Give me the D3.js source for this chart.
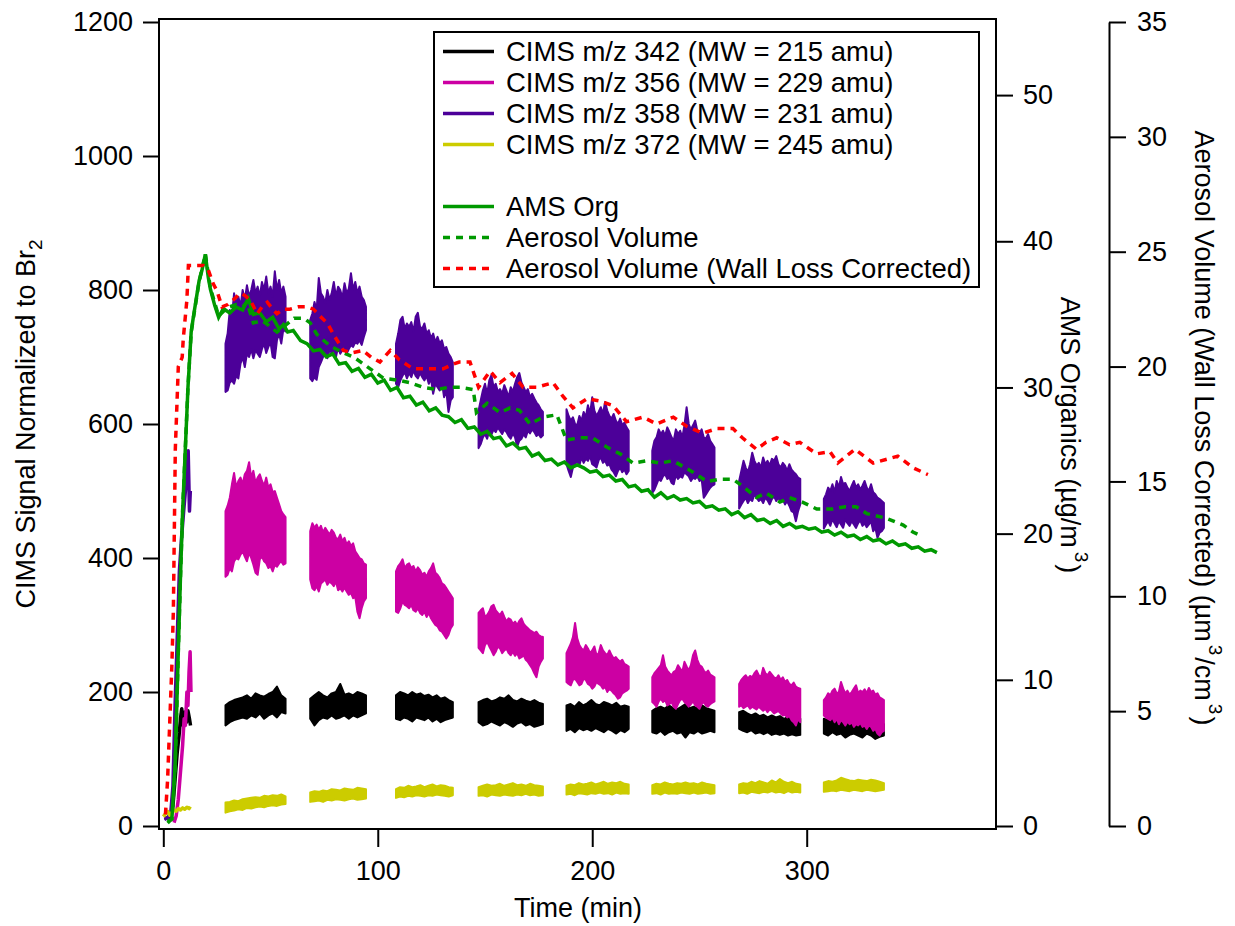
<!DOCTYPE html>
<html>
<head>
<meta charset="utf-8">
<script src="https://cdn.jsdelivr.net/npm/d3@7"></script>
<style>
	body { margin: 0; background: #fff; }
	svg text { font-family: "Liberation Sans", Arial, sans-serif; fill: #000; }
</style>
</head>
<body>
<svg id="chart" width="1235" height="926"></svg>
<script>

// time windows (min) when CIMS was sampling
const blockStart = [29, 68.5, 108.5, 147, 188, 228, 268.5, 308];
const blockEnd = [57, 94.5, 135, 177, 217, 257, 297, 336];

// CIMS signal band (upper / lower edge) per sampling window
const purpleHi = [
	[720, 735, 770, 760, 795, 780, 790, 775, 800, 785, 807, 790, 800, 815, 795, 805, 790, 812, 800, 820, 795, 805, 790, 828, 800, 815, 795, 805, 790],
	[755, 765, 782, 770, 818, 795, 790, 780, 800, 785, 795, 812, 790, 805, 800, 788, 810, 795, 802, 825, 800, 812, 795, 805, 790, 785, 775],
	[720, 735, 755, 760, 742, 750, 745, 752, 738, 760, 766, 745, 742, 750, 735, 740, 728, 735, 722, 730, 720, 725, 712, 715, 705, 700, 692],
	[620, 635, 650, 660, 645, 665, 673, 655, 660, 648, 652, 645, 658, 650, 640, 655, 648, 660, 670, 676, 662, 655, 648, 652, 640, 645, 638, 632, 628, 622, 618],
	[622, 612, 605, 610, 600, 598, 612, 605, 618, 610, 628, 615, 640, 620, 612, 618, 625, 615, 633, 620, 612, 608, 615, 605, 600, 608, 598, 602, 595, 590],
	[560, 575, 580, 592, 585, 590, 582, 595, 588, 580, 575, 592, 585, 590, 580, 598, 625, 600, 592, 598, 605, 590, 585, 592, 580, 578, 585, 575, 570, 565],
	[515, 530, 545, 535, 528, 540, 557, 545, 538, 542, 535, 550, 540, 545, 538, 548, 545, 552, 540, 535, 542, 538, 530, 540, 532, 528, 525, 520, 518],
	[488, 495, 505, 500, 510, 498, 515, 505, 521, 510, 512, 505, 500, 508, 515, 505, 510, 502, 508, 515, 505, 500, 510, 498, 495, 490, 488, 485, 482]
];
const purpleLo = [
	[648, 650, 662, 665, 660, 672, 668, 690, 700, 685, 705, 700, 712, 698, 710, 705, 700, 712, 720, 706, 715, 722, 700, 698, 725, 735, 720, 742, 738],
	[668, 664, 670, 666, 685, 692, 700, 705, 698, 710, 706, 712, 700, 715, 705, 710, 714, 705, 712, 718, 715, 722, 720, 725, 718, 730, 740],
	[660, 655, 665, 672, 678, 668, 676, 670, 680, 672, 668, 676, 670, 665, 672, 660, 668, 645, 660, 655, 650, 662, 640, 650, 618, 635, 640],
	[564, 570, 580, 585, 578, 590, 584, 592, 588, 595, 590, 585, 592, 588, 582, 578, 586, 580, 566, 575, 578, 585, 580, 590, 586, 592, 588, 582, 585, 580, 583],
	[540, 530, 521, 535, 540, 545, 538, 550, 542, 548, 545, 552, 540, 538, 535, 546, 550, 542, 545, 538, 540, 532, 528, 522, 530, 535, 528, 532, 525, 530],
	[497, 502, 510, 518, 515, 522, 525, 518, 520, 512, 510, 524, 518, 522, 520, 528, 525, 522, 515, 520, 518, 522, 515, 518, 490, 495, 500, 505, 508, 510],
	[474, 480, 485, 490, 482, 488, 485, 495, 490, 485, 488, 482, 490, 486, 480, 488, 492, 485, 490, 484, 488, 480, 485, 478, 470, 468, 455, 470, 480],
	[444, 450, 455, 448, 458, 452, 446, 455, 450, 445, 458, 452, 448, 455, 450, 445, 452, 456, 448, 452, 446, 450, 455, 440, 445, 430, 438, 440, 445]
];
const pinkHi = [
	[470, 478, 490, 510, 527, 505, 515, 520, 510, 525, 530, 543, 520, 530, 512, 520, 525, 515, 508, 520, 505, 510, 498, 500, 490, 480, 470, 465, 461],
	[440, 452, 445, 450, 442, 448, 438, 445, 440, 435, 442, 438, 430, 428, 435, 425, 430, 420, 425, 418, 422, 410, 405, 400, 398, 392, 390],
	[380, 388, 392, 398, 385, 390, 392, 385, 388, 380, 386, 382, 375, 378, 372, 380, 385, 392, 378, 375, 370, 362, 360, 355, 350, 345, 340],
	[318, 322, 325, 312, 315, 320, 328, 330, 322, 318, 315, 320, 312, 305, 310, 308, 302, 305, 300, 306, 310, 302, 298, 295, 292, 290, 288, 290, 285, 283, 282],
	[258, 265, 272, 282, 303, 280, 270, 265, 262, 270, 265, 258, 262, 268, 255, 258, 270, 262, 258, 255, 262, 255, 250, 252, 248, 245, 248, 242, 240, 238],
	[222, 228, 232, 236, 240, 255, 238, 232, 228, 225, 230, 232, 240, 235, 230, 245, 238, 232, 240, 255, 262, 248, 240, 238, 232, 228, 232, 226, 224, 222],
	[212, 218, 222, 225, 220, 224, 222, 228, 232, 225, 222, 236, 228, 225, 230, 226, 222, 220, 225, 218, 222, 215, 218, 212, 210, 214, 208, 206, 205],
	[188, 192, 198, 195, 202, 205, 198, 200, 215, 205, 198, 202, 196, 200, 205, 210, 198, 202, 200, 204, 198, 206, 200, 202, 196, 198, 192, 190, 188]
];
const pinkLo = [
	[372, 375, 385, 380, 395, 400, 398, 405, 410, 402, 395, 408, 400, 390, 378, 375, 398, 402, 395, 392, 385, 388, 380, 390, 387, 392, 395, 390, 392],
	[368, 355, 352, 358, 350, 362, 365, 368, 360, 365, 362, 358, 365, 352, 355, 350, 356, 350, 345, 348, 340, 342, 320, 310, 325, 335, 340],
	[320, 318, 325, 335, 330, 328, 325, 330, 322, 320, 325, 318, 315, 320, 312, 318, 310, 305, 300, 298, 292, 290, 285, 280, 285, 295, 300],
	[266, 262, 258, 270, 275, 268, 262, 255, 260, 268, 265, 258, 262, 265, 258, 255, 260, 254, 258, 250, 252, 255, 248, 245, 240, 235, 228, 222, 238, 245, 250],
	[215, 212, 210, 218, 220, 215, 210, 212, 220, 218, 212, 210, 205, 208, 215, 212, 210, 205, 208, 200, 205, 202, 198, 195, 190, 192, 198, 200, 202, 205],
	[185, 182, 178, 186, 190, 185, 188, 180, 182, 185, 178, 175, 182, 188, 190, 185, 182, 178, 182, 186, 180, 178, 175, 182, 185, 180, 178, 182, 184, 186],
	[178, 180, 176, 178, 180, 175, 178, 176, 174, 178, 175, 172, 175, 170, 174, 172, 168, 170, 172, 168, 165, 166, 162, 164, 158, 155, 150, 160, 155],
	[165, 162, 160, 158, 162, 155, 160, 152, 158, 155, 150, 156, 152, 155, 148, 152, 150, 154, 148, 150, 145, 150, 148, 142, 145, 138, 135, 140, 142]
];
const blackHi = [
	[180, 185, 188, 190, 192, 195, 190, 198, 195, 193, 197, 200, 208, 195, 190],
	[190, 195, 200, 195, 192, 198, 200, 212, 196, 198, 195, 200, 198, 195],
	[195, 200, 198, 195, 200, 196, 198, 194, 196, 192, 195, 190, 192, 188, 185],
	[185, 188, 190, 186, 188, 192, 190, 195, 188, 186, 190, 187, 185, 188, 184, 182],
	[180, 182, 178, 185, 180, 183, 188, 182, 180, 185, 183, 180, 184, 178, 180, 178],
	[172, 176, 178, 175, 180, 176, 174, 178, 182, 176, 178, 175, 180, 176, 174, 172],
	[170, 172, 168, 165, 168, 164, 166, 162, 165, 162, 164, 160, 163, 160, 162, 160],
	[160, 158, 162, 160, 155, 158, 162, 160, 158, 155, 160, 157, 158, 155, 152]
];
const blackLo = [
	[150, 155, 158, 160, 162, 160, 165, 162, 168, 160, 165, 168, 162, 170, 168],
	[160, 150, 158, 162, 160, 165, 160, 162, 165, 160, 165, 162, 165, 168],
	[160, 158, 162, 160, 156, 162, 160, 158, 162, 156, 160, 155, 158, 160, 162],
	[155, 150, 152, 156, 153, 150, 155, 152, 148, 153, 155, 150, 152, 148, 150, 152],
	[142, 145, 140, 146, 143, 145, 142, 146, 143, 140, 145, 142, 138, 143, 140, 145],
	[140, 138, 142, 136, 140, 142, 138, 140, 132, 140, 138, 142, 138, 140, 142, 140],
	[145, 142, 140, 143, 138, 140, 137, 140, 136, 138, 136, 138, 135, 137, 135, 136],
	[138, 135, 140, 136, 138, 132, 136, 138, 135, 132, 138, 135, 130, 133, 135]
];
const yellowHi = [
	[35, 36, 38, 37, 40, 41, 42, 43, 42, 45, 44, 46, 45, 47, 44],
	[50, 52, 51, 53, 52, 55, 54, 53, 56, 55, 54, 57, 56, 55],
	[55, 58, 57, 60, 58, 59, 61, 58, 60, 62, 59, 61, 60, 58, 57],
	[58, 60, 62, 60, 61, 63, 60, 62, 64, 61, 62, 60, 63, 61, 60, 59],
	[60, 62, 61, 64, 62, 63, 65, 62, 64, 66, 63, 65, 64, 66, 63, 62],
	[61, 63, 62, 65, 63, 62, 64, 63, 65, 63, 64, 62, 65, 63, 62, 61],
	[62, 64, 63, 66, 64, 67, 65, 63, 68, 65, 70, 66, 64, 66, 63, 62],
	[65, 67, 66, 68, 72, 70, 68, 67, 69, 68, 67, 69, 68, 66, 64]
];
const yellowLo = [
	[20, 22, 23, 25, 24, 27, 26, 28, 29, 28, 30, 31, 30, 32, 33],
	[36, 37, 38, 36, 39, 38, 40, 39, 38, 40, 41, 39, 40, 41],
	[42, 44, 43, 45, 44, 46, 45, 44, 46, 45, 47, 46, 45, 44, 46],
	[45, 46, 44, 47, 46, 45, 47, 46, 45, 47, 46, 48, 46, 47, 45, 46],
	[47, 48, 46, 49, 48, 47, 49, 48, 50, 48, 49, 47, 50, 48, 49, 48],
	[48, 49, 47, 50, 48, 49, 48, 50, 49, 48, 50, 48, 49, 50, 48, 49],
	[49, 50, 48, 51, 50, 49, 51, 50, 52, 50, 51, 49, 52, 50, 51, 50],
	[51, 52, 53, 52, 54, 53, 52, 54, 53, 52, 54, 53, 52, 53, 54]
];

// CIMS rise at the start of the experiment [time, signal]
const blackStart = [[0.5, 12], [2, 12], [3.5, 15], [4.5, 30], [5.5, 70], [6.5, 110], [7.5, 140], [8, 160], [8.6, 175], [9.3, 150], [10, 170], [10.8, 155], [11.5, 172], [12.2, 160], [12.7, 150]];
const pinkStart = [[5, 5], [6, 15], [7, 40], [8, 80], [9, 120], [9.7, 160], [10.3, 150], [11, 200], [11.5, 180], [12, 230], [12.5, 260], [12.9, 200]];
const purpleStart = [[0.5, 10], [2, 12], [3.5, 20], [4.5, 60], [5.5, 180], [6.5, 280], [7.5, 380], [8.5, 430], [9.5, 470], [10.3, 500], [11, 540], [11.6, 560], [12.2, 470], [12.6, 500]];
const yellowStart = [[0, 14], [1, 18], [2, 22], [3, 16], [4, 20], [5, 24], [6, 22], [7, 26], [8, 24], [9, 27], [10, 25], [11, 28], [12, 26], [12.6, 29]];

// AMS organics (ug/m3)
const amsTime = [2, 4, 5.5, 7, 8, 9, 10.3, 11.5, 13, 14, 16.7, 18, 19.6, 21, 22, 24, 25.8, 28, 31, 34, 37, 39.6, 42, 45, 48, 51, 54, 56, 58, 60.6, 64, 67, 70, 73, 76, 79, 82, 85, 88, 91, 94, 97, 100, 103, 106, 109, 112, 115, 118, 121, 124, 127, 130, 133, 136, 139, 142, 145, 148, 151, 154, 157, 160, 163, 166, 169, 172, 175, 178, 181, 184, 187, 190, 193, 196, 199, 202, 205, 208, 211, 214, 217, 220, 223, 226, 229, 232, 235, 238, 241, 244, 247, 250, 253, 256, 259, 262, 265, 268, 271, 274, 277, 280, 283, 286, 289, 292, 295, 298, 301, 304, 307, 310, 313, 316, 319, 322, 325, 328, 331, 334, 337, 340, 343, 346, 349, 352, 355, 358, 360.7];
const amsOrg = [0.2, 0.5, 4, 12, 17, 21.5, 25.9, 30, 33.8, 34.8, 37.3, 38, 39.1, 37.5, 36.7, 35.6, 34.8, 35.4, 35.1, 35.5, 35.3, 36.1, 35.0, 35.1, 34.5, 34.8, 34.0, 34.3, 33.8, 33.9, 33.2, 33.0, 32.5, 32.6, 32.1, 32.3, 31.6, 31.7, 31.1, 31.3, 30.7, 30.9, 30.3, 30.5, 29.8, 30.0, 29.3, 29.4, 28.8, 29.0, 28.4, 28.6, 28.1, 28.0, 27.6, 27.8, 27.2, 27.3, 26.8, 27.0, 26.5, 26.6, 26.0, 26.2, 25.8, 25.9, 25.3, 25.5, 25.0, 25.1, 24.7, 24.9, 24.5, 24.7, 24.5, 24.2, 24.3, 23.9, 24.0, 23.6, 23.7, 23.2, 23.3, 22.9, 23.0, 22.5, 22.8, 22.4, 22.6, 22.3, 22.4, 22.1, 22.2, 21.8, 21.9, 21.6, 21.7, 21.3, 21.5, 21.1, 21.3, 20.9, 21.0, 20.7, 20.9, 20.5, 20.7, 20.4, 20.5, 20.3, 20.4, 20.1, 20.2, 19.9, 20.1, 19.8, 19.9, 19.6, 19.8, 19.5, 19.6, 19.3, 19.5, 19.2, 19.3, 19.0, 19.1, 18.8, 18.9, 18.7];

// aerosol volume (um3/cm3)
const volTime = [2, 4, 5.5, 7, 8, 9, 10.3, 11.5, 13, 16.7, 19.6, 22, 25.8, 28, 31, 34, 37, 39, 42, 46, 49, 53, 57, 61, 65.5, 68.5, 71.6, 74, 77.8, 84, 89, 95, 102.6, 110, 115, 121, 127.6, 133, 138.4, 144.5, 146, 151, 157, 161.7, 166, 171, 177, 183.5, 188, 194, 200, 206.7, 213, 219, 225.5, 231.6, 237.7, 247, 253.5, 259.6, 265.6, 270, 276.6, 281, 287.5, 292, 298, 304.7, 312, 318, 323, 328, 337, 345, 349.5, 354];
const volume = [0.2, 0.3, 2.5, 7.6, 10.8, 13.7, 16.5, 19.1, 21.5, 23.7, 24.9, 23.4, 22.2, 22.4, 22.6, 22.7, 22.6, 22.8, 21.9, 22.0, 21.8, 21.5, 21.8, 22.1, 22.1, 21.9, 21.4, 21.2, 20.9, 20.6, 20.4, 20.0, 19.5, 19.4, 19.3, 19.1, 19.0, 19.1, 19.1, 19.0, 18.0, 18.4, 18.0, 18.2, 18.1, 17.5, 17.8, 17.9, 16.8, 16.9, 16.9, 16.5, 16.2, 15.8, 15.9, 15.8, 15.9, 15.4, 15.0, 15.1, 15.1, 14.8, 14.3, 14.5, 14.1, 14.3, 14.1, 13.8, 13.8, 13.9, 13.9, 13.6, 13.4, 13.1, 12.8, 12.6];
const volWlcTime = [1, 2, 3, 4, 4.7, 5.6, 7, 8.8, 9.3, 11, 11.7, 15, 18.6, 21, 23.3, 25, 27.4, 30, 32.6, 35.9, 38, 40.5, 43.8, 46, 48.5, 51, 53, 56, 59, 63, 67, 70, 73, 76.4, 80, 84, 88, 93, 97, 101, 105.8, 110, 116.5, 123, 130.5, 135, 138, 143, 147, 152.4, 157, 162.6, 167.8, 174, 181.7, 186.4, 191, 197.6, 203.6, 209.7, 216, 223.7, 230, 237.8, 244, 251.6, 258, 265.6, 270, 276.6, 281, 286, 292, 296.8, 304.6, 310.8, 314.5, 322.5, 331, 342.5, 349.5, 356.5];
const volumeWlc = [0.5, 2, 4.5, 7, 9.4, 16.4, 20, 20.4, 21.2, 22.9, 24.4, 24.4, 24.4, 24.2, 23.6, 23.3, 22.6, 22.7, 22.9, 23.2, 23.1, 22.9, 22.3, 22.6, 22.8, 22.5, 22.3, 22.5, 22.5, 22.6, 22.6, 22.5, 22.2, 21.9, 21.3, 20.7, 20.6, 20.7, 20.4, 20.2, 20.7, 20.3, 19.9, 19.9, 19.9, 20.1, 20.2, 20.2, 19.1, 19.8, 19.3, 19.7, 19.1, 19.1, 19.3, 18.7, 18.2, 18.6, 18.5, 18.3, 17.6, 17.8, 17.5, 17.8, 17.4, 17.1, 17.3, 17.3, 16.9, 16.4, 16.7, 16.9, 16.6, 16.7, 16.2, 16.3, 15.8, 16.4, 15.8, 16.1, 15.6, 15.3];

const legendLabels = [
	"CIMS m/z 342 (MW = 215 amu)",
	"CIMS m/z 356 (MW = 229 amu)",
	"CIMS m/z 358 (MW = 231 amu)",
	"CIMS m/z 372 (MW = 245 amu)",
	"",
	"AMS Org",
	"Aerosol Volume",
	"Aerosol Volume (Wall Loss Corrected)"
];

const timeTicks = [0, 100, 200, 300];
const cimsTicks = [0, 200, 400, 600, 800, 1000, 1200];
const amsTicks = [0, 10, 20, 30, 40, 50];
const volTicks = [0, 5, 10, 15, 20, 25, 30, 35];

const COLORS = {
	black: "#000000",
	pink: "#cc00a3",
	purple: "#4c0099",
	yellow: "#cccc00",
	green: "#009900",
	red: "#ff0000"
};

class ChamberPlot {

	constructor(svg_element_id) {
		this.svg = d3.select("#" + svg_element_id);

		this.x = d3.scaleLinear().domain([0, 300]).range([163.3, 806.7]);
		this.y_cims = d3.scaleLinear().domain([0, 1200]).range([826, 22]);
		this.y_ams = d3.scaleLinear().domain([0, 55]).range([826, 22]);
		this.y_vol = d3.scaleLinear().domain([0, 35]).range([826, 22]);

		this.drawData();
		this.drawFrame();
		this.drawAxes();
		this.drawLegend();
	}

	blockPoints(hi, lo, k) {
		const n = hi.length;
		const step = (blockEnd[k] - blockStart[k]) / (n - 1);
		return hi.map((h, j) => ({t: blockStart[k] + j * step, hi: h, lo: lo[j]}));
	}

	drawCims(g, hiList, loList, start, color) {
		const band = d3.area()
			.x(d => this.x(d.t))
			.y0(d => this.y_cims(d.lo))
			.y1(d => this.y_cims(d.hi));

		const line = d3.line()
			.x(d => this.x(d[0]))
			.y(d => this.y_cims(d[1]));

		g.append("path")
			.attr("d", line(start))
			.attr("fill", "none")
			.attr("stroke", color)
			.attr("stroke-width", 3.5)
			.attr("stroke-linejoin", "round");

		g.selectAll(null)
			.data(hiList.map((hi, k) => this.blockPoints(hi, loList[k], k)))
			.enter()
			.append("path")
			.attr("d", band)
			.attr("fill", color)
			.attr("stroke", color)
			.attr("stroke-width", 2)
			.attr("stroke-linejoin", "round");
	}

	drawData() {
		const g = this.svg.append("g");

		this.drawCims(g, blackHi, blackLo, blackStart, COLORS.black);
		this.drawCims(g, pinkHi, pinkLo, pinkStart, COLORS.pink);
		this.drawCims(g, purpleHi, purpleLo, purpleStart, COLORS.purple);
		this.drawCims(g, yellowHi, yellowLo, yellowStart, COLORS.yellow);

		const ams_line = d3.line()
			.x((d, i) => this.x(amsTime[i]))
			.y(d => this.y_ams(d));
		g.append("path")
			.attr("d", ams_line(amsOrg))
			.attr("fill", "none")
			.attr("stroke", COLORS.green)
			.attr("stroke-width", 3.5);

		const vol_line = d3.line()
			.x((d, i) => this.x(volTime[i]))
			.y(d => this.y_vol(d));
		g.append("path")
			.attr("d", vol_line(volume))
			.attr("fill", "none")
			.attr("stroke", COLORS.green)
			.attr("stroke-width", 3.5)
			.attr("stroke-dasharray", "7,6");

		const wlc_line = d3.line()
			.x((d, i) => this.x(volWlcTime[i]))
			.y(d => this.y_vol(d));
		g.append("path")
			.attr("d", wlc_line(volumeWlc))
			.attr("fill", "none")
			.attr("stroke", COLORS.red)
			.attr("stroke-width", 3.5)
			.attr("stroke-dasharray", "7,6");
	}

	drawFrame() {
		this.svg.append("rect")
			.attr("x", 159)
			.attr("y", 19)
			.attr("width", 837)
			.attr("height", 810)
			.attr("fill", "none")
			.attr("stroke", "#000")
			.attr("stroke-width", 2);
	}

	styleAxis(g) {
		g.selectAll(".tick line").attr("stroke", "#000").attr("stroke-width", 2);
		g.selectAll(".tick text").style("font-size", "27px").attr("fill", "#000");
		g.selectAll(".domain").attr("stroke", "#000").attr("stroke-width", 2);
	}

	drawAxes() {
		const fmt = d3.format("d");

		const left = this.svg.append("g")
			.attr("transform", "translate(159,0)")
			.call(d3.axisLeft(this.y_cims).tickValues(cimsTicks).tickFormat(fmt).tickSize(16).tickSizeOuter(0).tickPadding(10));
		left.select(".domain").remove();
		this.styleAxis(left);

		const bottom = this.svg.append("g")
			.attr("transform", "translate(0,829)")
			.call(d3.axisBottom(this.x).tickValues(timeTicks).tickFormat(fmt).tickSize(18).tickSizeOuter(0).tickPadding(14));
		bottom.select(".domain").remove();
		this.styleAxis(bottom);

		const ams = this.svg.append("g")
			.attr("transform", "translate(996,0)")
			.call(d3.axisRight(this.y_ams).tickValues(amsTicks).tickFormat(fmt).tickSize(17).tickSizeOuter(0).tickPadding(10));
		ams.select(".domain").remove();
		this.styleAxis(ams);

		const vol = this.svg.append("g")
			.attr("transform", "translate(1109,0)")
			.call(d3.axisRight(this.y_vol).tickValues(volTicks).tickFormat(fmt).tickSize(17).tickSizeOuter(0).tickPadding(11));
		this.styleAxis(vol);

		// axis titles
		const left_title = this.svg.append("text")
			.attr("transform", "translate(35,424) rotate(-90)")
			.attr("text-anchor", "middle")
			.style("font-size", "27px");
		left_title.append("tspan").text("CIMS Signal Normalized to Br");
		left_title.append("tspan").attr("dy", 7).style("font-size", "19px").text("2");

		this.svg.append("text")
			.attr("x", 578)
			.attr("y", 917)
			.attr("text-anchor", "middle")
			.style("font-size", "27px")
			.text("Time (min)");

		const ams_title = this.svg.append("text")
			.attr("transform", "translate(1061,435) rotate(90)")
			.attr("text-anchor", "middle")
			.style("font-size", "27px");
		ams_title.append("tspan").text("AMS Organics (\u00b5g/m");
		ams_title.append("tspan").attr("dy", -14).attr("dx", 4).style("font-size", "19px").text("3");
		ams_title.append("tspan").attr("dy", 14).attr("dx", 2).text(")");

		const vol_title = this.svg.append("text")
			.attr("transform", "translate(1195,428) rotate(90)")
			.attr("text-anchor", "middle")
			.style("font-size", "27px");
		vol_title.append("tspan").text("Aerosol Volume (Wall Loss Corrected) (\u00b5m");
		vol_title.append("tspan").attr("dy", -14).attr("dx", 3).style("font-size", "19px").text("3");
		vol_title.append("tspan").attr("dy", 14).attr("dx", 2).text("/cm");
		vol_title.append("tspan").attr("dy", -14).attr("dx", 3).style("font-size", "19px").text("3");
		vol_title.append("tspan").attr("dy", 14).attr("dx", 2).text(")");
	}

	drawLegend() {
		const styles = [
			{color: COLORS.black, dash: null},
			{color: COLORS.pink, dash: null},
			{color: COLORS.purple, dash: null},
			{color: COLORS.yellow, dash: null},
			null,
			{color: COLORS.green, dash: null},
			{color: COLORS.green, dash: "7,6"},
			{color: COLORS.red, dash: "7,6"}
		];

		const legend = this.svg.append("g");
		legend.append("rect")
			.attr("x", 434)
			.attr("y", 32)
			.attr("width", 545)
			.attr("height", 255)
			.attr("fill", "#fff")
			.attr("stroke", "#000")
			.attr("stroke-width", 2);

		legendLabels.forEach((label, i) => {
			if (!styles[i]) return;
			const cy = 51.5 + i * 31;
			legend.append("line")
				.attr("x1", 443)
				.attr("x2", 494)
				.attr("y1", cy)
				.attr("y2", cy)
				.attr("stroke", styles[i].color)
				.attr("stroke-width", 3.5)
				.attr("stroke-dasharray", styles[i].dash);
			legend.append("text")
				.attr("x", 506)
				.attr("y", cy)
				.attr("dy", "0.35em")
				.style("font-size", "27.5px")
				.text(label);
		});
	}
}

function whenDocumentLoaded(action) {
	if (document.readyState === "loading") {
		document.addEventListener("DOMContentLoaded", action);
	} else {
		action();
	}
}

whenDocumentLoaded(() => {
	plot_object = new ChamberPlot("chart");
});
</script>
</body>
</html>
